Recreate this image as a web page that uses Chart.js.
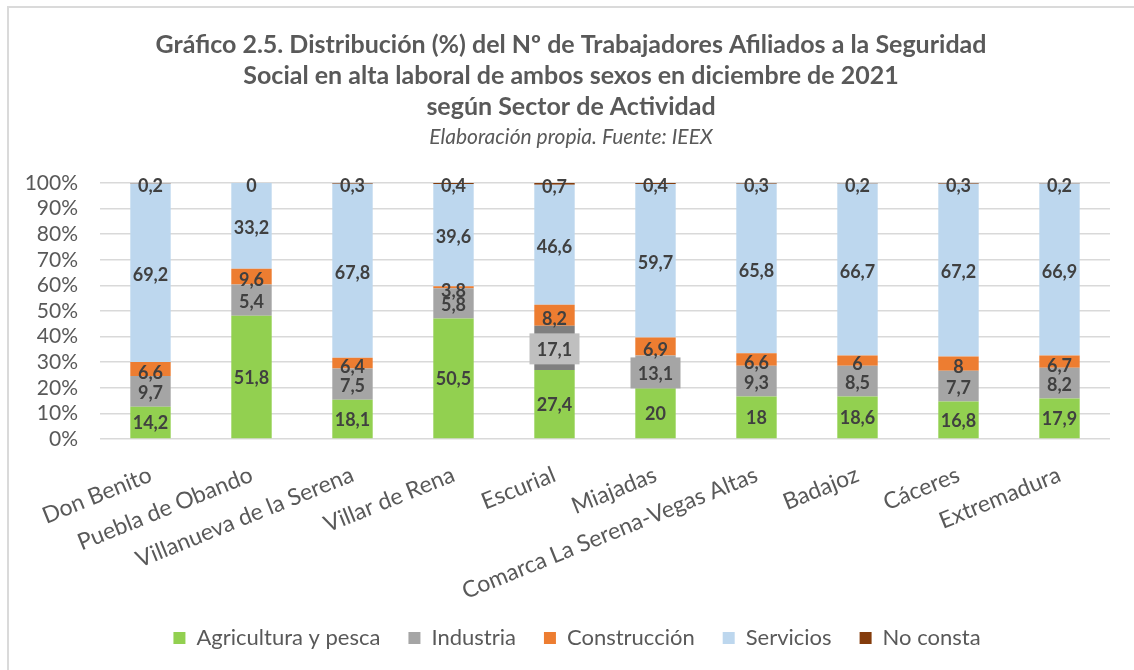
<!DOCTYPE html>
<html>
<head>
<meta charset="utf-8">
<script src="https://cdn.jsdelivr.net/npm/chart.js@4.4.1/dist/chart.umd.min.js"></script>
<style>
html,body{margin:0;padding:0;background:#fff;overflow:hidden}
#wrap{position:relative;width:1134px;height:670px;overflow:hidden}
#c{position:absolute;left:0;top:0}
#frame{position:absolute;left:7px;top:6px;width:1200px;height:800px;border:2px solid #dadada;box-sizing:border-box;pointer-events:none}
</style>
</head>
<body>
<div id="wrap"><canvas id="c" width="1134" height="670"></canvas><div id="frame"></div></div>
<script>
// Categories (x axis)
const categories = ['Don Benito','Puebla de Obando','Villanueva de la Serena','Villar de Rena','Escurial','Miajadas','Comarca La Serena-Vegas Altas','Badajoz','Cáceres','Extremadura'];

// Segment heights as drawn in the reference (% of each bar)
const agricultura  = [12.6, 48.1, 15.3, 47.1, 27.0, 19.8, 16.6, 16.6, 14.6, 15.8];
const industria    = [12.0, 12.3, 12.2, 11.8, 17.2, 12.8, 12.0, 12.0, 12.1, 12.0];
const construccion = [5.5, 6.1, 4.2, 0.8, 8.2, 7.0, 4.9, 4.0, 5.5, 4.8];
const servicios    = [69.7, 33.5, 68.0, 39.9, 46.9, 60.0, 66.2, 67.2, 67.5, 67.2];
const noConsta     = [0.2, 0, 0.3, 0.4, 0.7, 0.4, 0.3, 0.2, 0.3, 0.2];

// Data labels as printed in the reference
const agriculturaLbl  = ['14,2','51,8','18,1','50,5','27,4','20','18','18,6','16,8','17,9'];
const industriaLbl    = ['9,7','5,4','7,5','5,8','17,1','13,1','9,3','8,5','7,7','8,2'];
const construccionLbl = ['6,6','9,6','6,4','3,8','8,2','6,9','6,6','6','8','6,7'];
const serviciosLbl    = ['69,2','33,2','67,8','39,6','46,6','59,7','65,8','66,7','67,2','66,9'];
const noConstaLbl     = ['0,2','0','0,3','0,4','0,7','0,4','0,3','0,2','0,3','0,2'];

// Y axis range and step (%)
const yMin = 0, yMax = 100, yStep = 10;

const FONT = 'Lato, "Open Sans", "DejaVu Sans", sans-serif';

// label boxes (by category name)
const boxedIndustria = { 'Escurial': '#bfbfbf', 'Miajadas': '#a5a5a5' };

const segLabels = {
  id: 'segLabels',
  afterDatasetsDraw(chart) {
    const ctx = chart.ctx;
    ctx.save();
    ctx.font = 'bold 18px ' + FONT;
    ctx.textAlign = 'center';
    ctx.textBaseline = 'middle';
    chart.data.datasets.forEach((ds, di) => {
      const meta = chart.getDatasetMeta(di);
      meta.data.forEach((el, i) => {
        const txt = ds.valueLabels[i];
        const x = el.x;
        const y = (el.y + el.base) / 2 + (ds.labelShift || 0);
        if (ds.boxes) {
          const bc = ds.boxes[chart.data.labels[i]];
          if (bc) {
            ctx.fillStyle = bc;
            ctx.fillRect(x - 25, y - 15.5, 50, 31);
          }
        }
        ctx.fillStyle = '#404040';
        ctx.fillText(txt, x, y + 1);
      });
    });
    ctx.restore();
  }
};

// nudge the title block and legend horizontally to the reference centring
const nudgeBoxes = {
  id: 'nudgeBoxes',
  afterLayout(chart) {
    chart.boxes.forEach(b => {
      let dx = 0;
      if (b === chart.legend) dx = 12;
      else if (b.position === 'top') dx = 6;
      if (dx) { b.left += dx; b.right += dx; }
    });
  }
};

new Chart(document.getElementById('c'), {
  type: 'bar',
  data: {
    labels: categories,
    datasets: [
      { label: 'Agricultura y pesca', data: agricultura, backgroundColor: '#92d050', valueLabels: agriculturaLbl, labelShift: 0 },
      { label: 'Industria', data: industria,
        backgroundColor: (c) => (c.type === 'data' && categories[c.dataIndex] !== 'Escurial') ? '#a5a5a5' : '#7f7f7f',
        valueLabels: industriaLbl, labelShift: 1, boxes: boxedIndustria },
      { label: 'Construcción', data: construccion, backgroundColor: '#ed7d31', valueLabels: construccionLbl, labelShift: 3 },
      { label: 'Servicios', data: servicios, backgroundColor: '#bdd7ee', valueLabels: serviciosLbl, labelShift: 1.5 },
      { label: 'No consta', data: noConsta, backgroundColor: '#843c0c', valueLabels: noConstaLbl, labelShift: 2 }
    ]
  },
  options: {
    responsive: false,
    animation: false,
    devicePixelRatio: 1,
    datasets: { bar: { barPercentage: 0.4, categoryPercentage: 1.0, borderWidth: 0 } },
    layout: { padding: { left: 20, right: 24, top: 0, bottom: 11 } },
    scales: {
      x: {
        stacked: true,
        grid: { display: false },
        border: { display: false },
        ticks: {
          autoSkip: false, minRotation: 22, maxRotation: 22, padding: 14,
          color: '#595959', font: { family: FONT, size: 23 }
        },
        afterFit: (s) => { s.height = 160; }
      },
      y: {
        stacked: true,
        min: yMin, max: yMax,
        grid: { color: '#d9d9d9', lineWidth: 1.5, drawTicks: false },
        border: { display: false },
        ticks: {
          stepSize: yStep, autoSkip: false,
          padding: 22, color: '#595959', font: { family: FONT, size: 21 },
          callback: (v) => v + '%'
        },
        afterFit: (s) => { s.width = 80; }
      }
    },
    plugins: {
      tooltip: { enabled: false },
      title: {
        display: true,
        text: ['Gráfico 2.5. Distribución (%) del Nº de Trabajadores Afiliados a la Seguridad',
               'Social en alta laboral de ambos sexos en diciembre de 2021',
               'según Sector de Actividad'],
        color: '#595959',
        font: { family: FONT, size: 25, weight: 'bold', lineHeight: '31px' },
        padding: { top: 29.5, bottom: 0 }
      },
      subtitle: {
        display: true,
        text: 'Elaboración propia. Fuente: IEEX',
        color: '#595959',
        font: { family: FONT, size: 21, style: 'italic', lineHeight: '24px' },
        padding: { top: 3, bottom: 33.5 }
      },
      legend: {
        position: 'bottom',
        labels: {
          color: '#595959', font: { family: FONT, size: 22 },
          boxWidth: 12, boxHeight: 12, padding: 28
        }
      }
    }
  },
  plugins: [segLabels, nudgeBoxes]
});
</script>
</body>
</html>
